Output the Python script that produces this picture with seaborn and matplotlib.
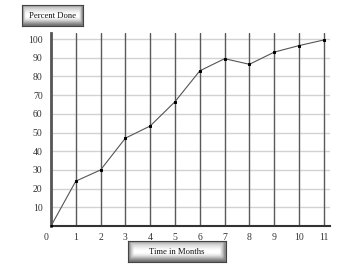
import numpy as np
import pandas as pd
import matplotlib
matplotlib.use("Agg")
import matplotlib.pyplot as plt
import matplotlib.transforms as mtransforms
import seaborn as sns

months = [0, 1, 2, 3, 4, 5, 6, 7, 8, 9, 10, 11]
percent_done = [0, 24, 30, 47, 53.5, 66.5, 83, 89.5, 86.5, 93, 96.5, 99.5]
x_ticks = list(range(0, 12))
y_ticks = list(range(10, 101, 10))

df = pd.DataFrame({"month": months, "pct": percent_done})

sns.set_style("white")
plt.rcParams['font.family'] = ['Liberation Serif', 'DejaVu Serif']

fig = plt.figure(figsize=(3.5, 2.66), dpi=100)
ax = fig.add_axes([51/350, 1-226/266, (330-51)/350, (226-32.7)/266])

for yv in y_ticks:
    ax.axhline(yv, color='#d2d2d2', lw=1.0, zorder=0)
for xv in x_ticks[1:]:
    ax.axvline(xv, color='#5a5a5a', lw=1.0, zorder=1)

sns.lineplot(data=df, x="month", y="pct", ax=ax, color='#555555', lw=0.8,
             marker='s', markersize=2.0, markerfacecolor='black',
             markeredgecolor='black', zorder=3)

ax.set_xlim(0, 11.25)
ax.set_ylim(0, 103.4)
ax.set_xticks(x_ticks)
ax.set_yticks(y_ticks)
ax.tick_params(axis='both', length=0, labelsize=7, colors='#333333')
ax.tick_params(axis='x', pad=5)
ax.tick_params(axis='y', pad=6)
ax.set_xlabel('')
ax.set_ylabel('')
for s in ['top', 'right']:
    ax.spines[s].set_visible(False)
ax.spines['left'].set_color('#555555')
ax.spines['left'].set_linewidth(2.0)
ax.spines['bottom'].set_color('#333333')
ax.spines['bottom'].set_linewidth(1.5)

# shift the "0" tick label left, as in the reference
offset = mtransforms.ScaledTranslation(-5/100, 0, fig.dpi_scale_trans)
zero_lbl = ax.xaxis.get_major_ticks()[0].label1
zero_lbl.set_transform(zero_lbl.get_transform() + offset)

# gradient label boxes
vprof = np.array([0.62, 0.78, 0.86, 0.92, 0.97, 1.0, 1.0, 0.96, 0.86, 0.72, 0.58, 0.45])
hprof = np.ones(40)
hprof[:2] = [0.55, 0.8]
hprof[-2:] = [0.8, 0.55]
grad = np.minimum(vprof.reshape(-1, 1), hprof.reshape(1, -1))

def label_box(x0, y0, x1, y1, text):
    bax = fig.add_axes([x0/350, 1-y1/266, (x1-x0)/350, (y1-y0)/266])
    bax.imshow(grad, aspect='auto', cmap='gray', vmin=0, vmax=1,
               extent=[0, 1, 0, 1], interpolation='bilinear')
    bax.set_xticks([])
    bax.set_yticks([])
    for sp in bax.spines.values():
        sp.set_color('#444444')
        sp.set_linewidth(0.8)
    bax.text(0.5, 0.5, text, ha='center', va='center', fontsize=6.2,
             color='#111111', transform=bax.transAxes)

label_box(22, 5, 83, 26, 'Percent Done')
label_box(128, 241, 226, 262, 'Time in Months')

fig.savefig('out.png', dpi=100)
